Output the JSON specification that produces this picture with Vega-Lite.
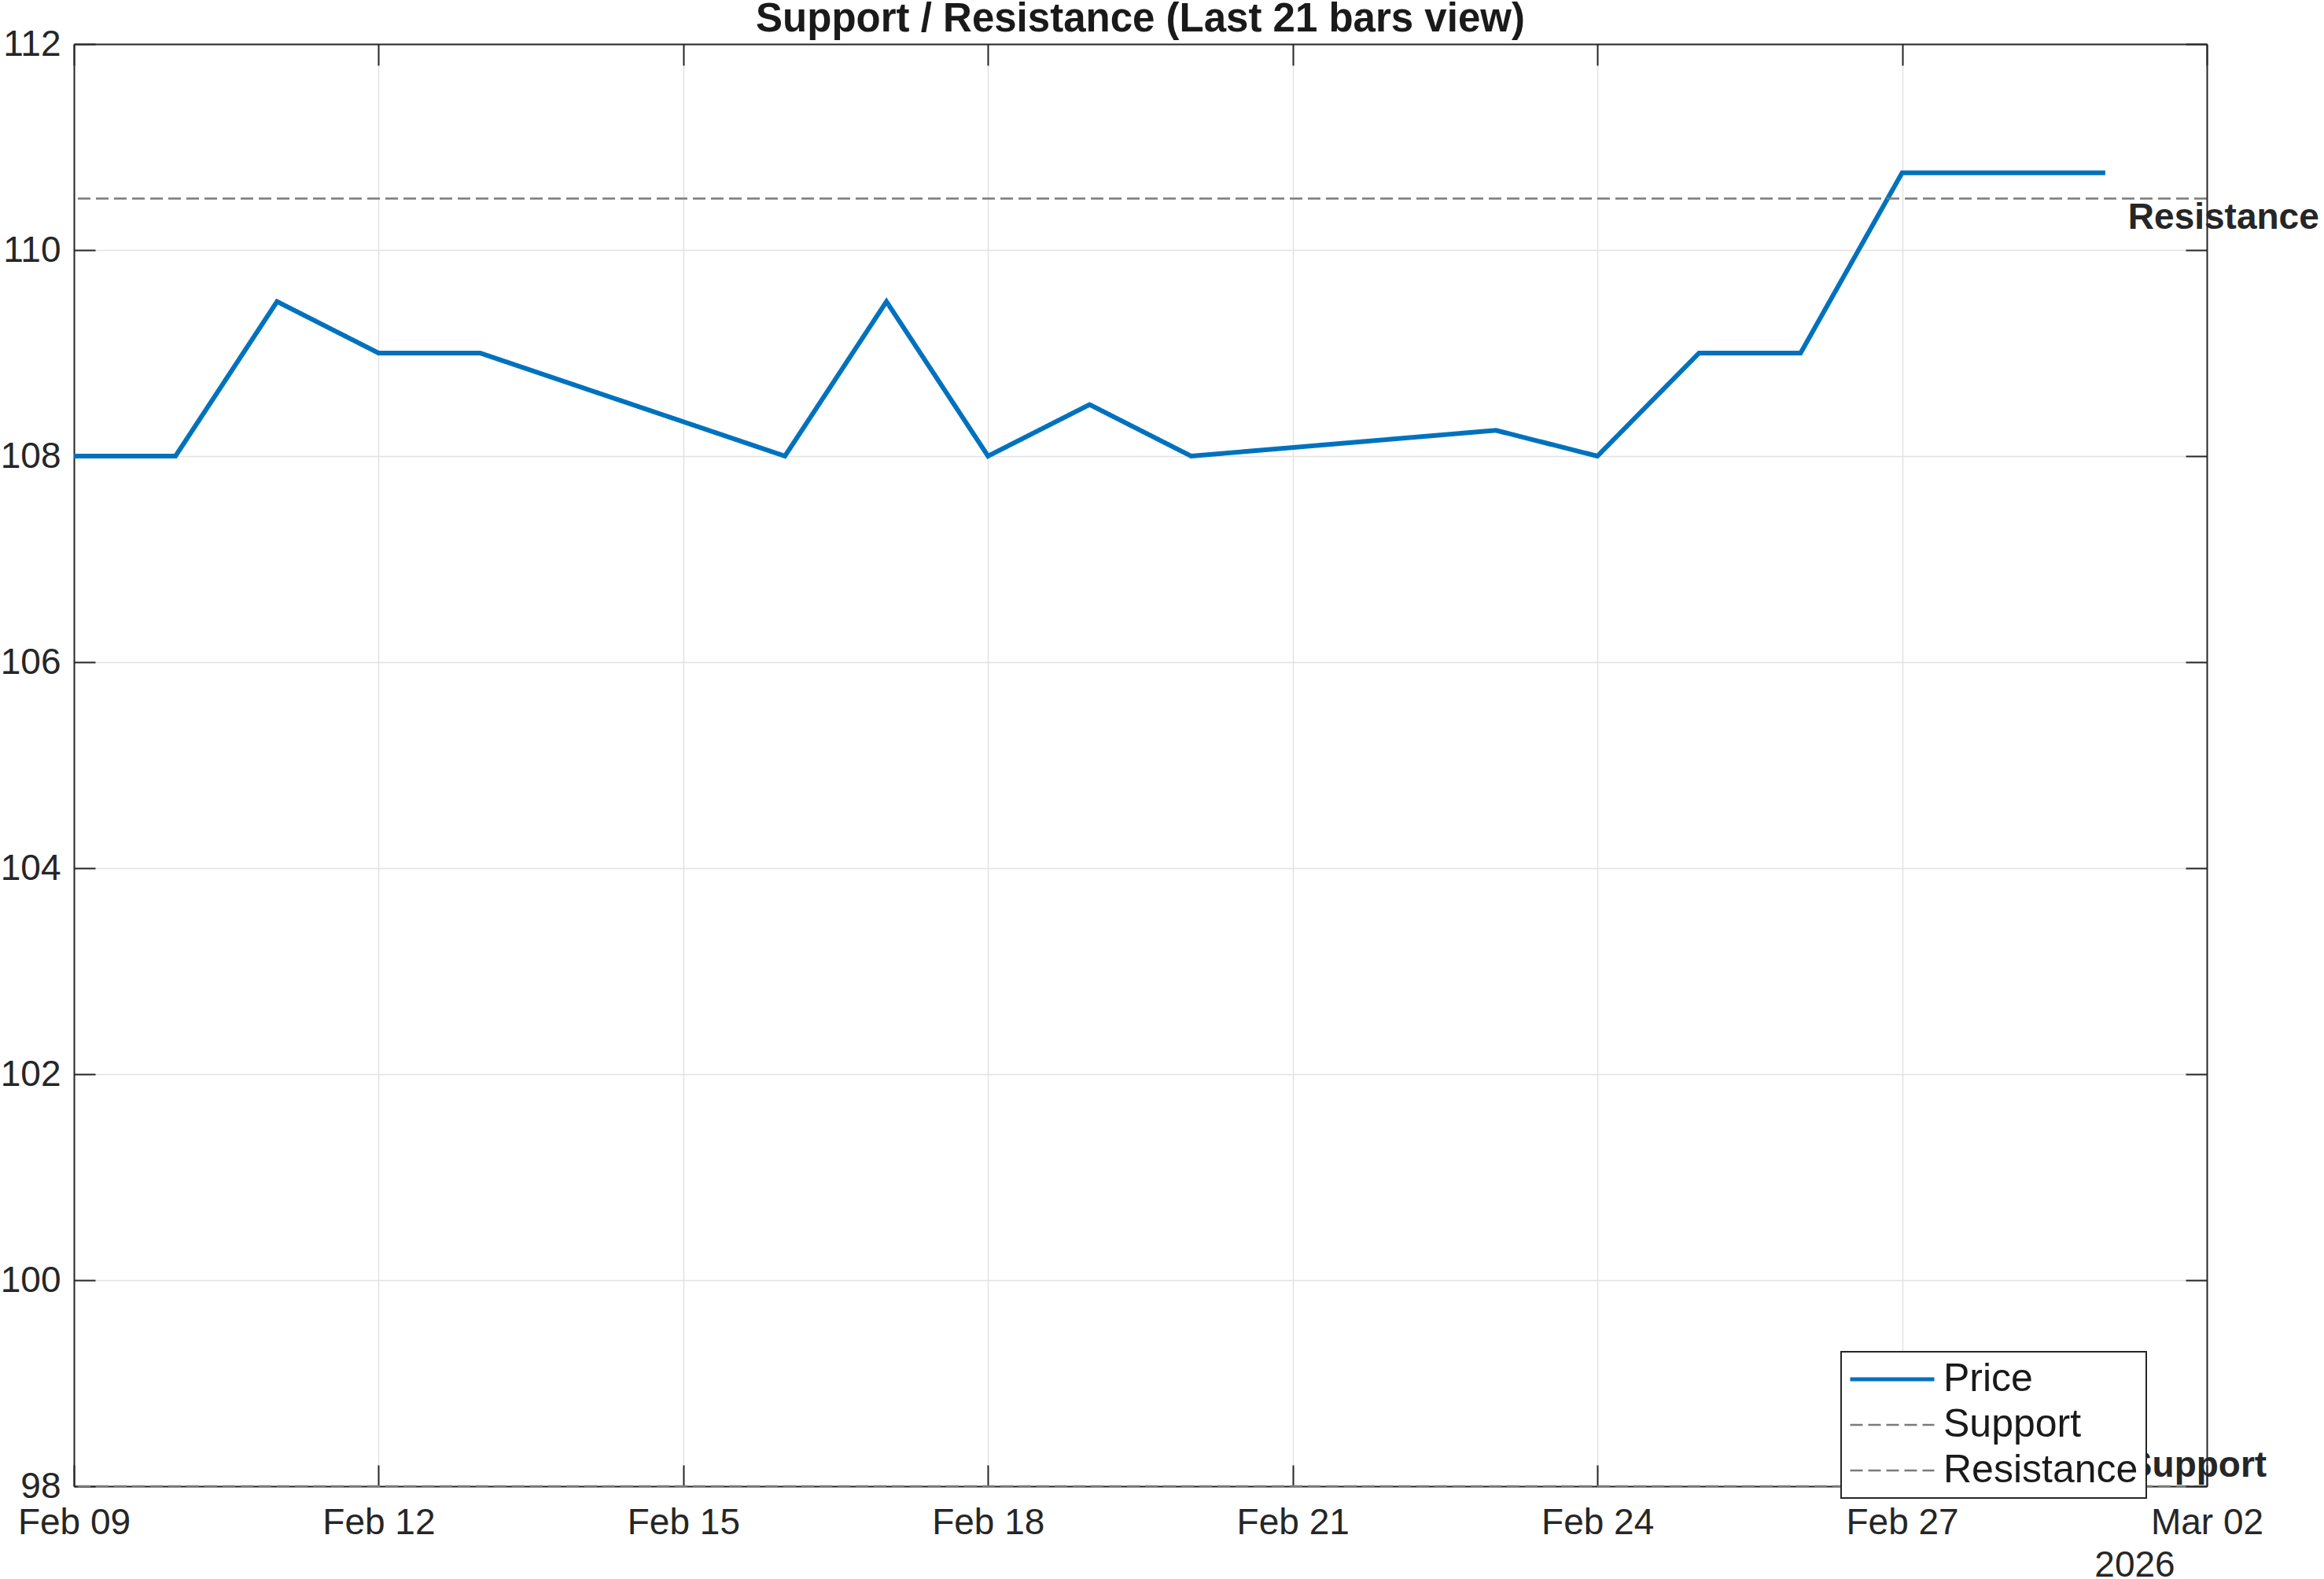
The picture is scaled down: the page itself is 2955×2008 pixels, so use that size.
{
  "$schema": "https://vega.github.io/schema/vega-lite/v6.json",
  "width": 2712,
  "height": 1834,
  "autosize": {"type": "none"},
  "padding": {"left": 94, "top": 56, "right": 149, "bottom": 118},
  "background": "#ffffff",
  "title": {
    "text": "Support / Resistance (Last 21 bars view)",
    "font": "Liberation Sans",
    "fontSize": 51,
    "fontWeight": "bold",
    "color": "#1a1a1a",
    "anchor": "middle",
    "frame": "group",
    "baseline": "alphabetic",
    "offset": -58
  },
  "config": {
    "view": {"stroke": null},
    "axis": {
      "labelFont": "Liberation Sans",
      "labelFontSize": 46,
      "labelColor": "#262626",
      "domainColor": "#262626",
      "domainWidth": 2,
      "tickColor": "#262626",
      "tickWidth": 2,
      "gridColor": "#e2e2e2",
      "gridWidth": 1.5,
      "titleFont": "Liberation Sans",
      "titleFontSize": 46,
      "titleFontWeight": "normal",
      "titleColor": "#262626"
    },
    "legend": {
      "labelFont": "Liberation Sans",
      "labelFontSize": 50,
      "labelColor": "#1a1a1a"
    }
  },
  "datasets": {
    "price": [
      {"date": "2026-02-09", "price": 108, "series": "Price"},
      {"date": "2026-02-10", "price": 108, "series": "Price"},
      {"date": "2026-02-11", "price": 109.5, "series": "Price"},
      {"date": "2026-02-12", "price": 109, "series": "Price"},
      {"date": "2026-02-13", "price": 109, "series": "Price"},
      {"date": "2026-02-16", "price": 108, "series": "Price"},
      {"date": "2026-02-17", "price": 109.5, "series": "Price"},
      {"date": "2026-02-18", "price": 108, "series": "Price"},
      {"date": "2026-02-19", "price": 108.5, "series": "Price"},
      {"date": "2026-02-20", "price": 108, "series": "Price"},
      {"date": "2026-02-23", "price": 108.25, "series": "Price"},
      {"date": "2026-02-24", "price": 108, "series": "Price"},
      {"date": "2026-02-25", "price": 109, "series": "Price"},
      {"date": "2026-02-26", "price": 109, "series": "Price"},
      {"date": "2026-02-27", "price": 110.75, "series": "Price"},
      {"date": "2026-02-28", "price": 110.75, "series": "Price"},
      {"date": "2026-03-01", "price": 110.75, "series": "Price"}
    ],
    "levels": [
      {"series": "Support", "value": 98, "date": "2026-03-01"},
      {"series": "Resistance", "value": 110.5, "date": "2026-03-01"}
    ]
  },
  "resolve": {"axis": {"x": "independent", "y": "independent"}},
  "layer": [
    {
      "data": {"name": "price"},
      "mark": {"type": "line", "strokeWidth": 6, "strokeJoin": "miter", "clip": true},
      "encoding": {
        "x": {
          "field": "date",
          "type": "temporal",
          "scale": {
            "type": "utc",
            "domain": [
              {"year": 2026, "month": 2, "date": 9, "utc": true},
              {"year": 2026, "month": 3, "date": 2, "utc": true}
            ]
          },
          "axis": {
            "orient": "bottom",
            "values": [
              {"year": 2026, "month": 2, "date": 9, "utc": true},
              {"year": 2026, "month": 2, "date": 12, "utc": true},
              {"year": 2026, "month": 2, "date": 15, "utc": true},
              {"year": 2026, "month": 2, "date": 18, "utc": true},
              {"year": 2026, "month": 2, "date": 21, "utc": true},
              {"year": 2026, "month": 2, "date": 24, "utc": true},
              {"year": 2026, "month": 2, "date": 27, "utc": true},
              {"year": 2026, "month": 3, "date": 2, "utc": true}
            ],
            "format": "%b %d",
            "grid": true,
            "tickSize": -27,
            "labelPadding": 51,
            "labelFlush": false,
            "labelOverlap": false,
            "labelBaseline": "top",
            "title": "2026",
            "titleX": 2620,
            "titleY": 114,
            "titleAlign": "center",
            "titleBaseline": "alphabetic",
            "zindex": 0
          }
        },
        "y": {
          "field": "price",
          "type": "quantitative",
          "scale": {"domain": [98, 112], "nice": false, "zero": false},
          "axis": {
            "orient": "left",
            "values": [98, 100, 102, 104, 106, 108, 110, 112],
            "grid": true,
            "tickSize": -27,
            "labelPadding": 44,
            "labelBaseline": "middle",
            "title": null,
            "zindex": 0
          }
        },
        "color": {
          "field": "series",
          "type": "nominal",
          "scale": {"domain": ["Price", "Support", "Resistance"], "range": ["#0072BD", "#7a7a7a", "#7a7a7a"]},
          "legend": {
            "title": null,
            "orient": "none",
            "legendX": 2247,
            "legendY": 1663,
            "fillColor": "#ffffff",
            "strokeColor": "#262626",
            "padding": 10,
            "symbolType": "stroke",
            "symbolSize": 11449,
            "clipHeight": 50,
            "rowPadding": 8,
            "labelOffset": 10,
            "labelLimit": 0,
            "labelBaseline": "middle",
            "encode": {
              "legend": {"update": {"strokeWidth": {"value": 2}}},
              "symbols": {"update": {"strokeWidth": {"signal": "(datum.value === 'Price' ? 5 : 2.5)"}}}
            }
          }
        },
        "strokeDash": {
          "field": "series",
          "type": "nominal",
          "scale": {"domain": ["Price", "Support", "Resistance"], "range": [[1, 0], [16, 7], [16, 7]]}
        }
      }
    },
    {
      "data": {"name": "levels"},
      "mark": {"type": "rule", "strokeWidth": 2.5},
      "encoding": {
        "y": {"field": "value", "type": "quantitative", "axis": null},
        "color": {"field": "series", "type": "nominal"},
        "strokeDash": {"field": "series", "type": "nominal"}
      }
    },
    {
      "data": {"name": "levels"},
      "transform": [{"filter": "datum.series === 'Resistance'"}],
      "mark": {
        "type": "text",
        "align": "left",
        "baseline": "top",
        "dx": 29,
        "dy": 2,
        "font": "Liberation Sans",
        "fontSize": 46,
        "fontWeight": "bold",
        "color": "#262626"
      },
      "encoding": {
        "x": {
          "field": "date",
          "type": "temporal",
          "axis": {
            "orient": "top",
            "values": [
              {"year": 2026, "month": 2, "date": 9, "utc": true},
              {"year": 2026, "month": 2, "date": 12, "utc": true},
              {"year": 2026, "month": 2, "date": 15, "utc": true},
              {"year": 2026, "month": 2, "date": 18, "utc": true},
              {"year": 2026, "month": 2, "date": 21, "utc": true},
              {"year": 2026, "month": 2, "date": 24, "utc": true},
              {"year": 2026, "month": 2, "date": 27, "utc": true},
              {"year": 2026, "month": 3, "date": 2, "utc": true}
            ],
            "labels": false,
            "grid": false,
            "tickSize": -27,
            "minExtent": 0,
            "maxExtent": 0,
            "title": null,
            "zindex": 1
          }
        },
        "y": {
          "field": "value",
          "type": "quantitative",
          "axis": {
            "orient": "right",
            "values": [98, 100, 102, 104, 106, 108, 110, 112],
            "labels": false,
            "grid": false,
            "tickSize": -27,
            "minExtent": 0,
            "maxExtent": 0,
            "title": null,
            "zindex": 1
          }
        },
        "text": {"field": "series"}
      }
    },
    {
      "data": {"name": "levels"},
      "transform": [{"filter": "datum.series === 'Support'"}],
      "mark": {
        "type": "text",
        "align": "left",
        "baseline": "bottom",
        "dx": 29,
        "dy": -2,
        "font": "Liberation Sans",
        "fontSize": 46,
        "fontWeight": "bold",
        "color": "#262626"
      },
      "encoding": {
        "x": {"field": "date", "type": "temporal", "axis": null},
        "y": {"field": "value", "type": "quantitative", "axis": null},
        "text": {"field": "series"}
      }
    }
  ]
}
